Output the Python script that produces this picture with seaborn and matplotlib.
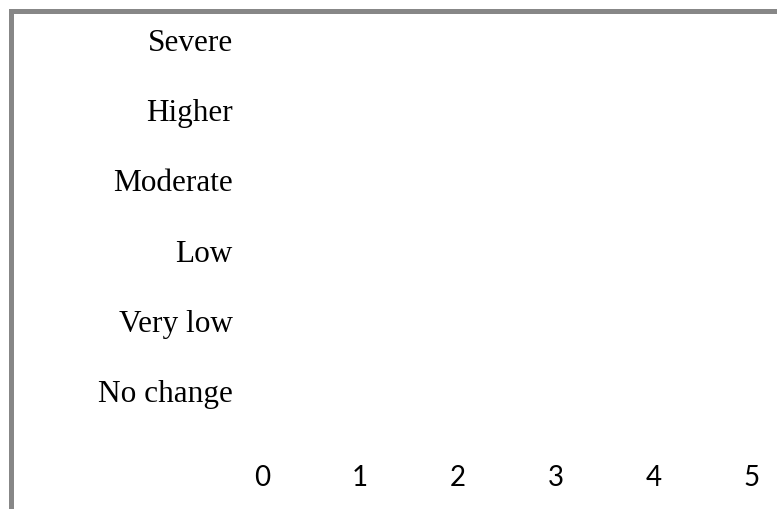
import seaborn as sns
import matplotlib.pyplot as plt
import matplotlib.patches as patches
import pandas as pd

# categories top to bottom, all values are zero (empty chart)
categories = ['Severe', 'Higher', 'Moderate', 'Low', 'Very low', 'No change']
values = [0, 0, 0, 0, 0, 0]
x_ticks = [0, 1, 2, 3, 4, 5]

df = pd.DataFrame({'level': categories, 'count': values})

sns.set_style('white')
fig = plt.figure(figsize=(7.77, 5.10), dpi=100)
ax = fig.add_axes([262 / 777, 1 - 426 / 510, 490 / 777, 421 / 510])

sns.barplot(data=df, x='count', y='level', orient='h', color='#4472c4', ax=ax)

ax.set_xlim(0, 5)
ax.set_ylim(5.5, -0.5)
ax.set_xticks(x_ticks)
ax.set_xticklabels([str(t) for t in x_ticks], fontfamily='Lato', fontsize=20, color='black')
ax.set_yticklabels(categories, fontfamily='Liberation Serif', fontsize=22.5, color='black')
ax.tick_params(axis='x', length=0, pad=28)
ax.tick_params(axis='y', length=0, pad=21)
ax.set_xlabel('')
ax.set_ylabel('')
for s in ax.spines.values():
    s.set_visible(False)

# grey frame, cut off at right and bottom
frame = patches.Rectangle((10.5 / 777, -0.2), 1.2, 1.2 - 11.5 / 510,
                          transform=fig.transFigure, fill=False,
                          edgecolor='#878787', linewidth=3.6)
fig.add_artist(frame)

fig.savefig('out.png', dpi=100)
